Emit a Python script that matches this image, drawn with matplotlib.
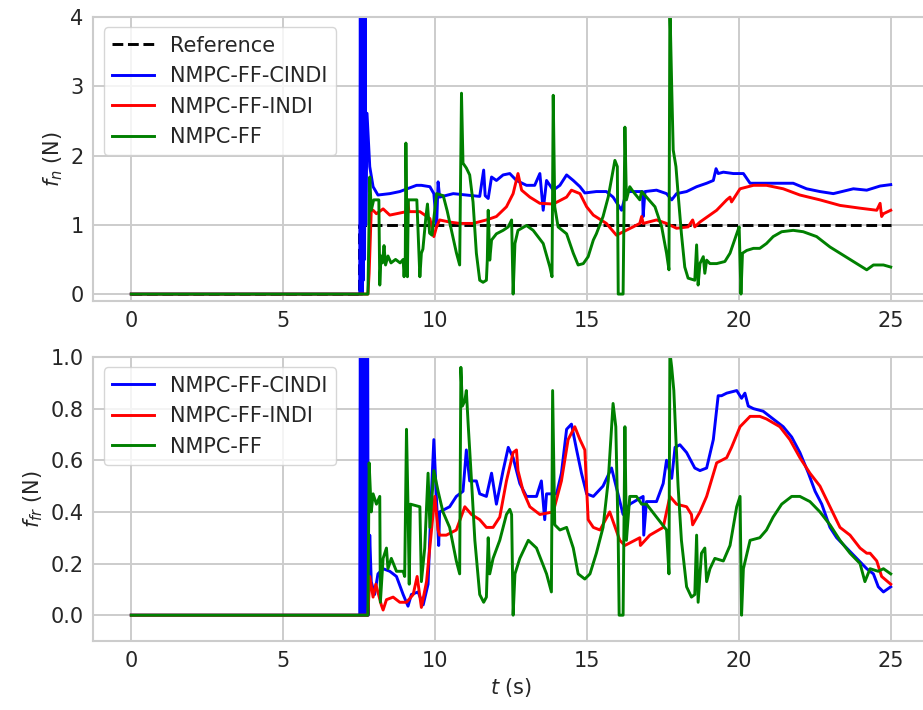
import matplotlib
matplotlib.use("Agg")
import matplotlib.pyplot as plt

# ---------------- data ----------------
t_ref = [0.0, 7.5, 7.5, 25.0]
fn_ref = [0.0, 0.0, 1.0, 1.0]

t_fn_cindi = [0.0, 7.52, 7.54, 7.56, 7.58, 7.60, 7.62, 7.64, 7.66, 7.68, 7.70, 7.72, 7.76, 7.85, 7.96, 8.12,
              8.51, 8.84, 9.39, 9.55, 9.83, 9.96, 10.05, 10.10, 10.15, 10.6, 11.03, 11.47, 11.60, 11.65,
              11.75, 11.86, 12.02,
              12.24, 12.46, 12.68, 13.01, 13.28, 13.45, 13.56, 13.67, 13.89, 14.11, 14.33, 14.55, 14.77,
              14.93, 15.31, 15.64, 15.86, 16.14, 16.30, 16.52, 16.83, 16.85, 16.91, 17.29, 17.62, 17.79,
              17.95, 18.28, 18.61, 18.94, 19.16, 19.25, 19.32, 19.49, 19.82, 20.15, 20.37, 20.91, 21.79,
              22.23, 22.67, 23.11, 23.77, 24.21, 24.65, 25.0]
fn_cindi = [0.0, 0.0, 4.5, 0.0, 4.5, 0.0, 4.5, 0.2, 4.5, 0.5, 4.5, 1.0, 2.61, 1.84, 1.55, 1.43,
            1.45, 1.48, 1.57, 1.57, 1.55, 1.45, 0.97, 1.62, 1.40, 1.45, 1.43, 1.41, 1.79, 1.42,
            1.38, 1.69, 1.64,
            1.72, 1.74, 1.64, 1.57, 1.57, 1.74, 1.21, 1.64, 1.50, 1.57, 1.72, 1.64, 1.55,
            1.46, 1.48, 1.48, 1.40, 1.21, 1.48, 1.48, 1.48, 1.12, 1.48, 1.50, 1.45, 1.36,
            1.45, 1.48, 1.55, 1.60, 1.64, 1.81, 1.74, 1.76, 1.74, 1.74, 1.60, 1.60, 1.60,
            1.52, 1.48, 1.45, 1.52, 1.50, 1.56, 1.58]

t_fn_indi = [0.0, 7.79, 7.83, 7.90, 7.96, 8.07, 8.29, 8.51, 8.73, 9.06, 9.10, 9.14, 9.50, 9.83, 9.96,
             10.05, 10.15, 10.48, 10.81, 11.25, 11.69, 12.02, 12.35, 12.57, 12.73, 12.85, 13.12, 13.45,
             13.89, 14.33, 14.49, 14.77, 14.99, 15.21, 15.64, 15.97, 16.52, 16.74, 16.80, 16.85, 17.29,
             17.62, 17.95, 18.33, 18.48, 18.55, 18.72, 19.27, 19.60, 19.71, 19.76, 20.04, 20.48, 20.91,
             21.46, 22.01, 22.67, 23.33, 23.99, 24.54, 24.65, 24.70, 24.76, 25.0]
fn_indi = [0.0, 0.0, 0.3, 1.21, 1.21, 1.16, 1.23, 1.14, 1.16, 1.19, 1.36, 1.19, 1.19, 1.09, 0.83,
           0.97, 1.07, 1.04, 1.02, 1.02, 1.07, 1.12, 1.26, 1.45, 1.74, 1.50, 1.40, 1.31,
           1.30, 1.40, 1.50, 1.45, 1.26, 1.14, 1.02, 0.85, 0.97, 1.02, 1.12, 1.02, 1.07,
           1.02, 0.95, 0.97, 1.07, 0.97, 1.04, 1.21, 1.36, 1.40, 1.33, 1.52, 1.57, 1.57,
           1.52, 1.43, 1.36, 1.28, 1.24, 1.21, 1.31, 1.12, 1.16, 1.21]

t_fn_ff = [0.0, 7.79, 7.85, 7.90, 7.98, 8.15, 8.18, 8.22, 8.27, 8.32, 8.37, 8.45, 8.55, 8.70, 8.85,
           8.95, 8.98, 9.02, 9.04, 9.09, 9.12, 9.25, 9.40, 9.50, 9.55, 9.60, 9.70, 9.75, 9.82,
           9.90, 10.05, 10.27, 10.40, 10.55, 10.70, 10.81, 10.87, 10.92, 11.03, 11.14, 11.25, 11.36,
           11.47, 11.58, 11.69, 11.72, 11.75, 11.80, 11.86, 12.02, 12.24,
           12.41, 12.52, 12.57, 12.63, 12.73, 13.01, 13.23, 13.56, 13.78, 13.85, 13.89, 13.94, 14.05,
           14.33, 14.55, 14.71, 14.88, 15.04, 15.21, 15.31, 15.53, 15.70, 15.92, 16.00, 16.03, 16.19,
           16.25, 16.30, 16.41, 16.52, 16.74, 16.80, 16.96, 17.24, 17.46, 17.62, 17.70, 17.73, 17.79,
           17.84, 17.93, 18.00, 18.11, 18.22, 18.33, 18.55, 18.61, 18.66, 18.72, 18.83, 18.88, 18.94,
           19.05, 19.27, 19.54, 19.71, 19.93, 20.01, 20.07, 20.12, 20.26, 20.48, 20.69, 20.91, 21.13,
           21.41, 21.79, 22.12, 22.56, 23.00, 23.44, 23.88, 24.21, 24.43, 24.76, 25.0]
fn_ff = [0.0, 0.0, 1.69, 1.21, 1.36, 1.36, 0.13, 0.55, 0.45, 0.70, 0.42, 0.55, 0.45, 0.50, 0.45,
         0.50, 0.25, 0.55, 2.18, 0.25, 1.36, 1.36, 1.36, 0.25, 0.59, 0.65, 1.12, 1.30, 0.88,
         0.85, 1.45, 1.42, 1.20, 0.90, 0.60, 0.42, 2.90, 1.89, 1.82, 1.72, 1.33, 0.59,
         0.20, 0.17, 0.20, 0.49, 1.21, 0.49, 0.78, 0.87, 0.92,
         0.97, 1.07, 0.0, 0.73, 0.92, 0.99, 0.92, 0.73, 0.39, 0.25, 2.87, 1.26, 0.97,
         0.87, 0.59, 0.42, 0.44, 0.54, 0.78, 0.87, 1.12, 1.40, 1.93, 1.84, 0.0, 0.0,
         2.41, 1.36, 1.55, 1.48, 1.36, 1.48, 1.40, 1.26, 0.97, 0.59, 0.35, 4.2, 2.99,
         2.08, 1.84, 1.45, 0.87, 0.39, 0.23, 0.20, 0.71, 0.13, 0.44, 0.54, 0.30, 0.49,
         0.44, 0.44, 0.47, 0.59, 0.87, 0.97, 0.0, 0.59, 0.63, 0.66, 0.66, 0.73, 0.83,
         0.90, 0.92, 0.90, 0.83, 0.68, 0.56, 0.44, 0.35, 0.42, 0.42, 0.39]

t_ffr_cindi = [0.0, 7.52, 7.54, 7.56, 7.58, 7.60, 7.62, 7.64, 7.66, 7.68, 7.70, 7.72, 7.74, 7.76, 7.78,
               7.80, 7.85, 7.90, 8.01, 8.12, 8.29, 8.51, 8.73, 8.95, 9.11, 9.22, 9.44, 9.61, 9.77, 9.88,
               9.96, 10.05, 10.12, 10.15, 10.48, 10.70, 10.92, 11.03, 11.14, 11.36, 11.47, 11.69, 11.86,
               12.02, 12.24, 12.41, 12.57, 12.79, 13.01, 13.34, 13.50, 13.61, 13.67, 14.00, 14.16, 14.33,
               14.49, 14.66, 14.82, 14.99, 15.21, 15.53, 15.81, 16.19, 16.41, 16.85, 16.87, 16.96, 17.29,
               17.51, 17.62, 17.79, 17.90, 18.06, 18.28, 18.55, 18.72, 18.94, 19.16, 19.32, 19.43, 19.60,
               19.93, 20.09, 20.20, 20.31, 20.48, 20.80, 21.13, 21.46, 21.74, 22.01, 22.29, 22.51, 22.73,
               23.00, 23.22, 23.55, 23.88, 24.21, 24.43, 24.59, 24.76, 25.0]
ffr_cindi = [0.0, 0.0, 1.2, 0.0, 1.2, 0.0, 1.2, 0.0, 1.2, 0.0, 1.2, 0.0, 1.2, 0.0, 1.2,
             0.0, 0.31, 0.13, 0.08, 0.16, 0.18, 0.17, 0.15, 0.08, 0.035, 0.08, 0.09, 0.04, 0.12, 0.47,
             0.68, 0.44, 0.27, 0.40, 0.42, 0.46, 0.48, 0.64, 0.52, 0.52, 0.47, 0.46, 0.55,
             0.43, 0.56, 0.65, 0.61, 0.51, 0.46, 0.46, 0.52, 0.37, 0.47, 0.47, 0.55, 0.72,
             0.74, 0.64, 0.55, 0.47, 0.46, 0.50, 0.57, 0.39, 0.43, 0.46, 0.31, 0.44, 0.44,
             0.51, 0.60, 0.53, 0.65, 0.66, 0.63, 0.57, 0.56, 0.57, 0.68, 0.85, 0.85, 0.86,
             0.87, 0.84, 0.86, 0.81, 0.80, 0.79, 0.76, 0.73, 0.69, 0.63, 0.55, 0.48, 0.43,
             0.34, 0.30, 0.26, 0.22, 0.18, 0.16, 0.11, 0.09, 0.11]

t_ffr_indi = [0.0, 7.79, 7.85, 7.96, 8.05, 8.23, 8.29, 8.40, 8.62, 8.84, 9.06, 9.28, 9.41, 9.55, 9.72,
              9.99, 10.10, 10.15, 10.37, 10.70, 10.98, 11.20, 11.47, 11.69, 11.91, 12.13, 12.35, 12.57,
              12.68, 12.73, 12.90, 13.12, 13.45, 13.89, 14.16, 14.38, 14.60, 14.77, 14.93, 15.04, 15.21,
              15.43, 15.75, 16.08, 16.25, 16.74, 16.76, 17.07, 17.51, 17.62, 17.73, 17.95, 18.28, 18.44,
              18.48, 18.72, 18.94, 19.27, 19.60, 19.76, 20.04, 20.37, 20.69, 20.91, 21.35, 21.68, 22.01,
              22.34, 22.67, 23.00, 23.33, 23.66, 23.99, 24.21, 24.32, 24.54, 24.70, 25.0]
ffr_indi = [0.0, 0.0, 0.15, 0.07, 0.12, 0.04, 0.02, 0.06, 0.07, 0.05, 0.05, 0.08, 0.15, 0.03, 0.13,
            0.46, 0.33, 0.31, 0.31, 0.33, 0.42, 0.39, 0.37, 0.34, 0.34, 0.38, 0.52, 0.63,
            0.64, 0.56, 0.48, 0.42, 0.39, 0.40, 0.52, 0.68, 0.73, 0.68, 0.64, 0.37, 0.34,
            0.33, 0.40, 0.29, 0.27, 0.30, 0.27, 0.31, 0.34, 0.40, 0.46, 0.43, 0.42, 0.39,
            0.35, 0.40, 0.46, 0.59, 0.61, 0.65, 0.73, 0.77, 0.77, 0.76, 0.73, 0.68, 0.61,
            0.55, 0.50, 0.42, 0.34, 0.31, 0.26, 0.24, 0.24, 0.21, 0.15, 0.12]

t_ffr_ff = [0.0, 7.79, 7.83, 7.90, 7.96, 8.07, 8.18, 8.20, 8.29, 8.40, 8.45, 8.56, 8.73, 8.95, 9.00,
            9.06, 9.11, 9.15, 9.19, 9.50, 9.55, 9.66, 9.77, 9.83, 9.96, 10.10, 10.26, 10.48, 10.70,
            10.81, 10.85, 10.90, 10.98, 11.03, 11.09, 11.20, 11.31, 11.47, 11.60, 11.69, 11.75, 11.80,
            11.91, 12.13, 12.35, 12.46, 12.52, 12.57, 12.63, 12.79, 13.07, 13.34, 13.67, 13.83, 13.87,
            13.94, 14.11, 14.33, 14.55, 14.71, 14.93, 15.10, 15.31, 15.53, 15.70, 15.86, 15.95, 16.03,
            16.06, 16.19, 16.25, 16.30, 16.41, 16.63, 16.80, 16.96, 17.29, 17.62, 17.70, 17.73, 17.79,
            17.86, 17.93, 18.00, 18.11, 18.28, 18.44, 18.55, 18.61, 18.66, 18.77, 18.88, 18.94, 19.05,
            19.21, 19.49, 19.71, 19.93, 20.04, 20.09, 20.15, 20.37, 20.69, 20.91, 21.13, 21.41, 21.74,
            22.01, 22.34, 22.67, 23.00, 23.33, 23.66, 23.99, 24.15, 24.32, 24.59, 24.76, 25.0]
ffr_ff = [0.0, 0.0, 0.59, 0.40, 0.47, 0.43, 0.46, 0.05, 0.22, 0.26, 0.18, 0.22, 0.17, 0.17, 0.15,
          0.72, 0.42, 0.12, 0.43, 0.42, 0.13, 0.26, 0.55, 0.34, 0.56, 0.48, 0.40, 0.34, 0.21,
          0.16, 0.96, 0.81, 0.83, 0.87, 0.74, 0.52, 0.29, 0.08, 0.05, 0.07, 0.30, 0.16,
          0.22, 0.29, 0.39, 0.41, 0.39, 0.0, 0.16, 0.22, 0.29, 0.26, 0.16, 0.09, 0.87,
          0.35, 0.33, 0.34, 0.26, 0.16, 0.14, 0.16, 0.24, 0.34, 0.52, 0.82, 0.73, 0.29,
          0.0, 0.0, 0.73, 0.29, 0.46, 0.46, 0.43, 0.43, 0.38, 0.33, 0.16, 1.02, 0.96,
          0.87, 0.68, 0.50, 0.29, 0.11, 0.07, 0.08, 0.31, 0.05, 0.24, 0.26, 0.13, 0.18,
          0.22, 0.21, 0.27, 0.42, 0.46, 0.0, 0.18, 0.29, 0.30, 0.33, 0.38, 0.43, 0.46,
          0.46, 0.44, 0.40, 0.35, 0.29, 0.24, 0.20, 0.13, 0.18, 0.17, 0.18, 0.16]

xticks = [0, 5, 10, 15, 20, 25]
yticks_top = [0, 1, 2, 3, 4]
yticks_bot = [0.0, 0.2, 0.4, 0.6, 0.8, 1.0]

# ---------------- style ----------------
grey = "#cccccc"
txt = "#262626"
plt.rcParams.update({
    "font.family": ["DejaVu Sans"],
    "font.size": 15,
    "axes.edgecolor": grey,
    "axes.linewidth": 1.5,
    "grid.color": grey,
    "grid.linewidth": 1.4,
    "xtick.color": txt,
    "ytick.color": txt,
    "text.color": txt,
    "axes.labelcolor": txt,
    "xtick.major.size": 0,
    "ytick.major.size": 0,
    "xtick.labelsize": 15,
    "ytick.labelsize": 15,
    "legend.fontsize": 15,
})

fig = plt.figure(figsize=(9.23, 7.10), dpi=100)
W, H = 923.0, 710.0
left = 93.3 / W
width = (928.7 - 93.3) / W
ax1 = fig.add_axes([left, (H - 301) / H, width, 284 / H])
ax2 = fig.add_axes([left, (H - 641) / H, width, 284 / H])

lw = 2.1
ax1.plot(t_ref, fn_ref, "--", color="black", lw=lw, label="Reference")
ax1.plot(t_fn_cindi, fn_cindi, color="blue", lw=lw, label="NMPC-FF-CINDI")
ax1.plot(t_fn_indi, fn_indi, color="red", lw=lw, label="NMPC-FF-INDI")
ax1.plot(t_fn_ff, fn_ff, color="green", lw=lw, label="NMPC-FF")

ax2.plot(t_ffr_cindi, ffr_cindi, color="blue", lw=lw, label="NMPC-FF-CINDI")
ax2.plot(t_ffr_indi, ffr_indi, color="red", lw=lw, label="NMPC-FF-INDI")
ax2.plot(t_ffr_ff, ffr_ff, color="green", lw=lw, label="NMPC-FF")

for ax in (ax1, ax2):
    ax.set_facecolor("white")
    ax.grid(True)
    ax.set_axisbelow(True)
    ax.set_xlim(-1.25, 26.25)
    ax.set_xticks(xticks)
    ax.tick_params(pad=7)
    for s in ax.spines.values():
        s.set_color(grey)

ax1.set_ylim(-0.1, 4.0)
ax1.set_yticks(yticks_top)
ax2.set_ylim(-0.1, 1.0)
ax2.set_yticks(yticks_bot)

ax1.set_ylabel("$f_n$ (N)", fontsize=15)
ax2.set_ylabel("$f_{fr}$ (N)", fontsize=15)
ax2.set_xlabel("$t$ (s)", fontsize=15)

for ax in (ax1, ax2):
    ax.legend(loc="upper left", frameon=True, fancybox=True, framealpha=0.8,
              edgecolor=grey, borderpad=0.4, handlelength=2.0)

fig.savefig("out.png", dpi=100)
